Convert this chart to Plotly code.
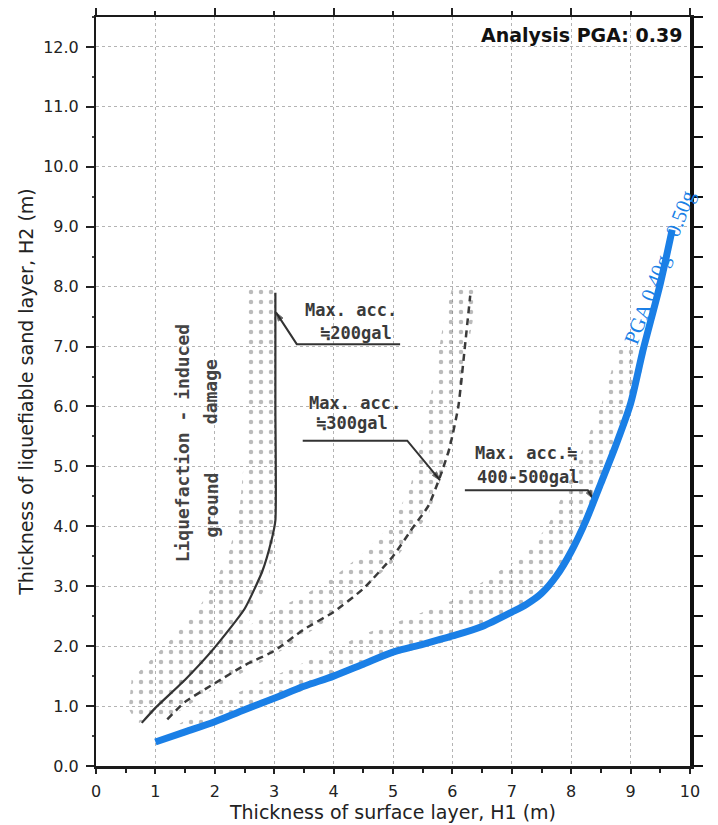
import plotly.graph_objects as go

# ---------------- data ----------------
# analysis curve (blue): PGA 0.40g - 0.50g boundary
blue_h1 = [1.0, 1.5, 2.0, 2.5, 3.0, 3.5, 4.0, 4.5, 5.0, 5.5, 6.0, 6.5, 7.0, 7.25, 7.5, 7.75, 8.0, 8.25, 8.5, 8.75, 9.0, 9.2, 9.5, 9.7]
blue_h2 = [0.4, 0.57, 0.74, 0.94, 1.13, 1.33, 1.5, 1.7, 1.9, 2.03, 2.17, 2.33, 2.57, 2.7, 2.88, 3.17, 3.58, 4.1, 4.72, 5.35, 6.05, 6.9, 8.05, 8.95]

# background chart: max acc. ~200 gal (solid)
solid_h1 = [0.77, 1.0, 1.5, 2.0, 2.5, 2.8, 2.95, 3.02, 3.02, 3.02]
solid_h2 = [0.72, 0.97, 1.44, 1.98, 2.62, 3.25, 3.75, 4.1, 6.0, 7.9]

# max acc. ~300 gal (dashed)
dashed_h1 = [1.2, 1.5, 2.0, 2.5, 3.0, 3.5, 4.0, 4.5, 5.0, 5.3, 5.6, 5.8, 5.95, 6.1, 6.2, 6.3]
dashed_h2 = [0.78, 1.07, 1.38, 1.68, 1.92, 2.28, 2.57, 2.96, 3.5, 3.93, 4.35, 4.85, 5.3, 6.0, 6.9, 7.85]

# stippled scatter bands (outer edge / inner edge)
band200_outer_h1 = [0.55, 0.6, 0.9, 1.3, 1.7, 2.0, 2.25, 2.42, 2.5, 2.5]
band200_outer_h2 = [0.95, 1.45, 1.75, 2.15, 2.6, 3.05, 3.6, 4.3, 5.2, 8.0]
band200_inner_h1 = [0.7, 1.1, 1.6, 2.1, 2.6, 2.9, 3.05, 3.0]
band200_inner_h2 = [0.7, 0.95, 1.3, 1.8, 2.45, 3.1, 4.0, 8.0]

band300_outer_h1 = [1.0, 1.5, 2.0, 2.5, 3.0, 3.5, 4.0, 4.5, 5.0, 5.3, 5.5, 5.7, 5.85, 6.0]
band300_outer_h2 = [0.95, 1.5, 1.95, 2.3, 2.6, 2.85, 3.15, 3.55, 4.05, 4.7, 5.5, 6.5, 7.4, 8.0]
band300_inner_h1 = [1.15, 2.0, 3.0, 4.0, 5.0, 5.6, 5.95, 6.15, 6.3, 6.45]
band300_inner_h2 = [0.75, 1.3, 1.85, 2.5, 3.4, 4.2, 5.2, 6.3, 7.2, 8.0]

band450_outer_h1 = [1.4, 2.0, 3.0, 4.0, 4.5, 5.2, 6.1, 6.7, 7.2, 7.6, 7.9, 8.2, 8.5, 8.8, 9.3]
band450_outer_h2 = [0.7, 1.05, 1.5, 1.95, 2.2, 2.45, 2.8, 3.2, 3.5, 4.0, 4.6, 5.3, 6.0, 7.0, 7.0]
band450_inner_h1 = [1.4, 2.0, 3.0, 4.0, 5.0, 6.0, 7.0, 7.5, 8.0, 8.5, 9.0, 9.3]
band450_inner_h2 = [0.5, 0.7, 1.08, 1.45, 1.85, 2.1, 2.5, 2.85, 3.55, 4.7, 6.0, 6.95]

# leader lines of the background chart labels (end = arrow tip)
lead200_h1 = [5.12, 3.38, 3.03]
lead200_h2 = [7.04, 7.04, 7.57]
lead300_h1 = [3.48, 5.24, 5.79]
lead300_h2 = [5.43, 5.43, 4.77]
lead450_h1 = [6.21, 8.28, 8.37]
lead450_h2 = [4.6, 4.6, 4.46]

x_title = "Thickness of surface layer, H1 (m)"
y_title = "Thickness of liquefiable sand layer, H2 (m)"
pga_label = "Analysis PGA: 0.39"
curve_label = "PGA 0.40g ~ 0.50g"

# ---------------- figure ----------------
fig = go.Figure()

def add_band(ox, oy, ix, iy):
    xs = list(ox) + list(reversed(ix))
    ys = list(oy) + list(reversed(iy))
    fig.add_trace(go.Scatter(
        x=xs, y=ys, mode="lines", line=dict(width=0), fill="toself",
        fillcolor="rgba(0,0,0,0)",
        fillpattern=dict(shape=".", size=10, solidity=0.16, fgcolor="#777777",
                         bgcolor="rgba(0,0,0,0)", fillmode="overlay"),
        hoverinfo="skip", showlegend=False))

add_band(band200_outer_h1, band200_outer_h2, band200_inner_h1, band200_inner_h2)
add_band(band300_outer_h1, band300_outer_h2, band300_inner_h1, band300_inner_h2)
add_band(band450_outer_h1, band450_outer_h2, band450_inner_h1, band450_inner_h2)

fig.add_trace(go.Scatter(x=solid_h1, y=solid_h2, mode="lines",
                         line=dict(color="#333333", width=2.2, shape="spline", smoothing=0.5),
                         hoverinfo="skip", showlegend=False))
fig.add_trace(go.Scatter(x=dashed_h1, y=dashed_h2, mode="lines",
                         line=dict(color="#3a3a3a", width=2.5, dash="7px,5px", shape="spline", smoothing=0.5),
                         hoverinfo="skip", showlegend=False))

for lx, ly in [(lead200_h1, lead200_h2), (lead300_h1, lead300_h2), (lead450_h1, lead450_h2)]:
    fig.add_trace(go.Scatter(x=lx, y=ly, mode="lines+markers",
                             line=dict(color="#333333", width=2),
                             marker=dict(symbol=["circle", "circle", "arrow"], size=[0, 0, 9],
                                         angleref="previous", color="#222222"),
                             hoverinfo="skip", showlegend=False))

fig.add_trace(go.Scatter(x=blue_h1, y=blue_h2, mode="lines",
                         line=dict(color="#1a7fe6", width=7, shape="spline", smoothing=0.8),
                         hoverinfo="skip", showlegend=False))

# invisible trace to activate top / right axes
fig.add_trace(go.Scatter(x=[0], y=[0], xaxis="x2", yaxis="y2", mode="markers",
                         marker=dict(opacity=0), hoverinfo="skip", showlegend=False))

tick_font = dict(family="DejaVu Sans", size=16, color="#222222")
title_font = dict(family="DejaVu Sans", size=19, color="#222222")
grid = dict(showgrid=True, gridcolor="#b4b4b4", griddash="dot", gridwidth=1)

# the page body adds an 8px offset; the figure is sized so the plot area
# lands where the reference has it
fig.update_layout(
    width=710, height=817,
    margin=dict(l=88, r=28, t=9, b=59, autoexpand=False),
    plot_bgcolor="white", paper_bgcolor="white",
    showlegend=False,
    xaxis=dict(range=[0, 10], tick0=0, dtick=1, **grid, zeroline=False, automargin=False,
               showline=True, linecolor="#1a1a1a", linewidth=3, mirror=False,
               ticks="outside", ticklen=5, tickwidth=1.5, tickcolor="#222",
               minor=dict(dtick=0.5, ticks="outside", ticklen=4, tickcolor="#222", showgrid=False),
               tickfont=tick_font, ticklabelstandoff=4,
               title=dict(text=x_title, font=title_font, standoff=0)),
    xaxis2=dict(overlaying="x", side="top", range=[0, 10], tick0=0, dtick=2, automargin=False,
                showgrid=False, zeroline=False, showticklabels=False,
                showline=True, linecolor="#1a1a1a", linewidth=2,
                ticks="outside", ticklen=8, tickwidth=1.5, tickcolor="#222",
                minor=dict(dtick=1, ticks="outside", ticklen=4, tickcolor="#222", showgrid=False)),
    yaxis=dict(range=[0, 12.5], tick0=0, dtick=1, tickformat=".1f", **grid, zeroline=False,
               automargin=False,
               showline=True, linecolor="#1a1a1a", linewidth=2, mirror=False,
               ticks="outside", ticklen=8, tickwidth=1.5, tickcolor="#222",
               minor=dict(dtick=0.5, ticks="outside", ticklen=2, tickcolor="#444", showgrid=False),
               tickfont=tick_font, ticklabelstandoff=4,
               title=dict(text=y_title, font=title_font, standoff=5)),
    yaxis2=dict(overlaying="y", side="right", range=[0, 12.5], tick0=0, dtick=0.5, automargin=False,
                showgrid=False, zeroline=False, showticklabels=False,
                showline=True, linecolor="#111111", linewidth=4,
                ticks="outside", ticklen=9, tickwidth=2, tickcolor="#111"),
)

label_font = dict(family="DejaVu Sans Mono", size=17, color="#3a3a3a")
annots = [
    dict(x=4.29, y=7.61, text="<b>Max. acc.</b>"),
    dict(x=4.38, y=7.22, text="<b>≒200gal</b>"),
    dict(x=4.36, y=6.05, text="<b>Max. acc.</b>"),
    dict(x=4.31, y=5.72, text="<b>≒300gal</b>"),
    dict(x=7.24, y=5.22, text="<b>Max. acc.≒</b>"),
    dict(x=7.27, y=4.82, text="<b>400-500gal</b>"),
]
for a in annots:
    fig.add_annotation(x=a["x"], y=a["y"], text=a["text"], showarrow=False,
                       xanchor="center", yanchor="middle", font=label_font)

rot_font = dict(family="DejaVu Sans Mono", size=18, color="#444444")
fig.add_annotation(x=1.46, y=5.38, text="<b>Liquefaction - induced</b>", textangle=-90,
                   showarrow=False, xanchor="center", yanchor="middle", font=rot_font)
fig.add_annotation(x=1.92, y=6.24, text="<b>damage</b>", textangle=-90,
                   showarrow=False, xanchor="center", yanchor="middle", font=rot_font)
fig.add_annotation(x=1.94, y=4.35, text="<b>ground</b>", textangle=-90,
                   showarrow=False, xanchor="center", yanchor="middle", font=rot_font)

fig.add_annotation(x=9.49, y=8.33, text=curve_label, textangle=-69, showarrow=False,
                   xanchor="center", yanchor="middle",
                   font=dict(family="Liberation Serif", size=21, color="#1a7fe6"))

fig.add_annotation(xref="paper", yref="paper", x=0.99, y=0.976, text="<b>" + pga_label + "</b>",
                   showarrow=False, xanchor="right", yanchor="middle",
                   font=dict(family="DejaVu Sans", size=19, color="#111111"))

fig.write_html("out.html")
